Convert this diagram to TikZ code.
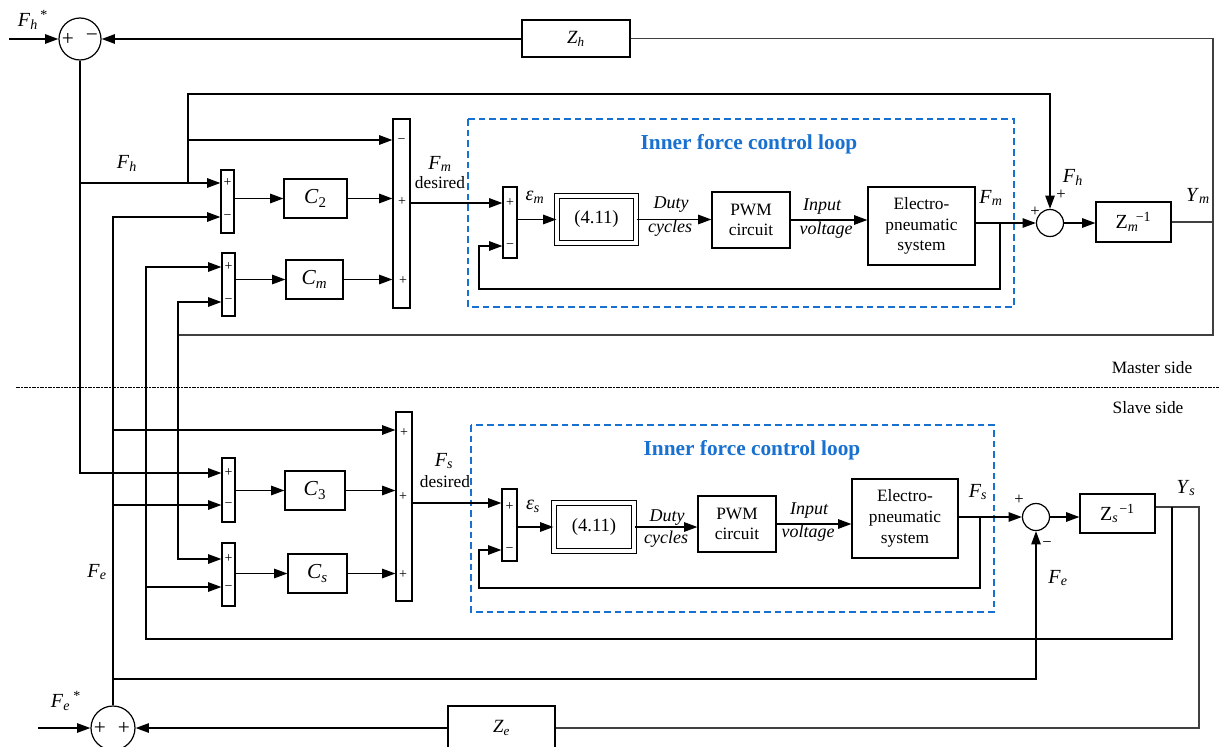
\documentclass[tikz,border=0pt]{standalone}
\usepackage{fontspec}
\setmainfont{Liberation Serif}
\usetikzlibrary{arrows.meta}
\definecolor{loopblue}{RGB}{24,112,208}
\newcommand\mySub[2]{\textit{#1}\textsubscript{\textit{#2}}}
\newcommand\mySubSup[3]{\textit{#1}\rlap{\textsubscript{\textit{#2}}}\kern0.5em\textsuperscript{#3}}
\begin{document}
\begin{tikzpicture}[x=0.75pt,y=-0.75pt,
  font=\fontsize{13}{15.5}\selectfont,
  box/.style={draw, line width=0.8pt, inner sep=0pt, align=center},
  bw/.style={minimum width=#1*0.75pt},
  bh/.style={minimum height=#1*0.75pt},
  sumc/.style={draw, circle, line width=0.9pt, inner sep=0pt, minimum size=#1*0.75pt},
  dbl/.style={box, double, double distance=2.6pt, line width=0.8pt},
  arr/.style={-{Triangle[length=10pt,width=7pt]}, line width=1.3pt},
  wire/.style={line width=0.9pt, draw=black!75},
  sgn/.style={font=\fontsize{10.5}{10.5}\selectfont, inner sep=0pt},
  osgn/.style={font=\fontsize{12.5}{12.5}\selectfont, inner sep=0pt},
  bsgn/.style={font=\fontsize{16}{16}\selectfont, inner sep=0pt},
  lab/.style={font=\fontsize{15}{15}\selectfont, inner sep=0pt},
  txt/.style={font=\fontsize{13}{13}\selectfont, inner sep=0pt},
  itxt/.style={font=\itshape\fontsize{13.5}{13.5}\selectfont, inner sep=0pt},
  loopbox/.style={draw=loopblue, dash pattern=on 5pt off 3pt, line width=1.1pt},
  looptitle/.style={text=loopblue, font=\bfseries\fontsize{16}{16}\selectfont, inner sep=0pt}]
\useasboundingbox (0,0) rectangle (1219,746);

% ---------- dashed loop boxes and divider ----------
\draw[loopbox] (468,119) rectangle (1014,307);
\draw[loopbox] (471,425) rectangle (994,612);
\node[looptitle] (t1) at (749,144) {Inner force control loop};
\node[looptitle] (t2) at (752,450) {Inner force control loop};
\draw[line width=0.5pt, dash pattern=on 3pt off 1pt on 1pt off 1pt] (16,387) -- (1219,387);
\node[txt] (ms) at (1152,368) {Master side};
\node[txt] (ss) at (1148,408) {Slave side};

% ---------- nodes: top and bottom ----------
\node[sumc=42] (sumH) at (80,39) {};
\node[bsgn] at (68,39) {+};
\node[bsgn] at (92,38) {−};
\node[box, bw=108, bh=37] (zh) at (576,38.5) {\fontsize{14}{14}\selectfont\mySub{Z}{h}};
\node[sumc=44] (sumE) at (113,728) {};
\node[bsgn] at (100,728) {+};
\node[bsgn] at (124,728) {+};
\node[box, bw=107, bh=44] (ze) at (501.5,728) {\fontsize{14}{14}\selectfont\mySub{Z}{e}};

% ---------- master side nodes ----------
\node[box, bw=17, bh=189] (bigM) at (401.5,213.5) {};
\node[box, bw=13, bh=63] (c2sum) at (227.5,201.5) {};
\node[box, bw=63, bh=39] (c2) at (315.5,198.5) {\fontsize{16}{16}\selectfont\textit{C}\textsubscript{2}};
\node[box, bw=13, bh=63] (cmsum) at (228.5,284.5) {};
\node[box, bw=57, bh=39] (cm) at (314.5,279.5) {\fontsize{16}{16}\selectfont\mySub{C}{m}};
\node[box, bw=14, bh=71] (emsum) at (510,222.5) {};
\node[dbl, bw=79, bh=47] (eq1) at (596.5,219.5) {\fontsize{14}{14}\selectfont(4.11)};
\node[box, bw=78, bh=56] (pwm1) at (751,220) {PWM\\circuit};
\node[box, bw=107, bh=78] (ep1) at (921.5,226) {Electro-\\pneumatic\\system};
\node[sumc=27] (fmsum) at (1050,223) {};
\node[box, bw=75, bh=40] (zm) at (1133.5,222) {\fontsize{15}{15}\selectfont Z\rlap{\textsubscript{\textit{m}}}\kern0.4em\textsuperscript{−1}};

% ---------- slave side nodes ----------
\node[box, bw=16, bh=189] (bigS) at (404,506.5) {};
\node[box, bw=13, bh=64] (c3sum) at (228.5,490) {};
\node[box, bw=60, bh=39] (c3) at (315,490.5) {\fontsize{16}{16}\selectfont\textit{C}\textsubscript{3}};
\node[box, bw=13, bh=63] (cssum) at (228.5,574.5) {};
\node[box, bw=59, bh=39] (cs) at (317.5,573.5) {\fontsize{16}{16}\selectfont\mySub{C}{s}};
\node[box, bw=15, bh=72] (essum) at (509.5,525) {};
\node[dbl, bw=80, bh=48] (eq2) at (594,527) {\fontsize{14}{14}\selectfont(4.11)};
\node[box, bw=78, bh=56] (pwm2) at (737,524) {PWM\\circuit};
\node[box, bw=106, bh=79] (ep2) at (905,518.5) {Electro-\\pneumatic\\system};
\node[sumc=27] (fssum) at (1036,517) {};
\node[box, bw=75, bh=39] (zs) at (1117.5,513.5) {\fontsize{15}{15}\selectfont Z\rlap{\textsubscript{\textit{s}}}\kern0.35em\textsuperscript{−1}};

% ---------- signs in the bar junctions ----------
\node[sgn] at (227.5,183) {+};  \node[sgn] at (227.5,217) {−};
\node[sgn] at (228.5,267) {+};  \node[sgn] at (228.5,301) {−};
\node[sgn] at (401.5,141) {−};  \node[sgn] at (402,202) {+};  \node[sgn] at (403,281) {+};
\node[sgn] at (510,203) {+};    \node[sgn] at (510,246) {−};
\node[sgn] at (228.5,473) {+};  \node[sgn] at (228.5,505) {−};
\node[sgn] at (228.5,559) {+};  \node[sgn] at (228.5,588) {−};
\node[sgn] at (404,433) {+};    \node[sgn] at (403,497) {+};  \node[sgn] at (403,575) {+};
\node[sgn] at (509.5,507) {+};  \node[sgn] at (509.5,550) {−};
\node[osgn] at (1061,195) {+};   \node[osgn] at (1035,212) {+};
\node[osgn] at (1019,500) {+};   \node[osgn] at (1047,545) {−};

% ---------- labels ----------
\node[lab] (lFhs) at (33,20) {\mySubSup{F}{h}{*}};
\node[lab] (lFh) at (127,163) {\mySub{F}{h}};
\node[lab] (lFm) at (440,164) {\mySub{F}{m}};
\node[txt] (lFmd) at (440,183) {desired};
\node[lab] (lem) at (535,197) {\mySub{ε}{m}};
\node[itxt] at (671,205) {Duty};
\node[itxt] at (670,228) {cycles};
\node[itxt] at (822,207) {Input};
\node[itxt] at (826,230) {voltage};
\node[lab] (lFm2) at (991,198) {\mySub{F}{m}};
\node[lab] (lFh2) at (1073,177) {\mySub{F}{h}};
\node[lab] (lYm) at (1198,196) {\mySub{Y}{m}};
\node[lab] (lFs) at (444,461) {\mySub{F}{s}};
\node[txt] (lFsd) at (445,482) {desired};
\node[lab] (les) at (533,506) {\mySub{ε}{s}};
\node[itxt] at (667,518) {Duty};
\node[itxt] at (666,539) {cycles};
\node[itxt] at (809,511) {Input};
\node[itxt] at (808,533) {voltage};
\node[lab] (lFs2) at (978,492) {\mySub{F}{s}};
\node[lab] (lFe2) at (1058,578) {\mySub{F}{e}};
\node[lab] (lYs) at (1186,488) {\mySub{Y}{s}};
\node[lab] (lFe) at (97,572) {\mySub{F}{e}};
\node[lab] (lFes) at (66,701) {\mySubSup{F}{e}{*}};

% ---------- external inputs ----------
\coordinate (inH) at (9,39);
\coordinate (inE) at (38,728);
\draw[arr] (inH) -- (sumH.west);
\draw[arr] (inE) -- (sumE.west);

% ---------- top loop (Z_h) and Y_m ----------
\draw[arr] (zh.west |- sumH.east) -- (sumH.east);
\draw[wire] (zh.east) -| (1213,335) -- (178,335);
\draw[wire] (zm.east) -- (zm.east -| 1213,0);
\draw[arr] (178,335) |- (cmsum.west |- 0,302);
\draw[arr] (178,335) |- (cssum.west |- 0,559);

% ---------- F_h distribution ----------
\draw[arr] (sumH.south) |- (c3sum.west |- 0,473);
\draw[arr] (80,183) -- (c2sum.west |- 0,183);
\draw[arr] (188,183) |- (bigM.west |- 0,140);
\draw[arr] (188,140) |- (1050,94) -- (fmsum.north);

% ---------- F_e distribution ----------
\draw[arr] (sumE.north) |- (c2sum.west |- 0,217);
\draw[arr] (113,430) -- (bigS.west |- 0,430);
\draw[arr] (113,505) -- (c3sum.west |- 0,505);
\draw[arr] (113,679) -| (fssum.south);

% ---------- Y_s distribution ----------
\coordinate (ysout) at ([yshift=4.9pt]zs.east);
\draw[wire] (ysout) -| (1199,728) -- (ze.east);
\draw[arr] (ze.west) -- (sumE.east);
\draw[arr] (ysout -| 1172,0) -- (1172,639) -| (146,267) -- (cmsum.west |- 0,267);
\draw[arr] (146,587) -- (cssum.west |- 0,587);

% ---------- master chain ----------
\draw[arr] (c2sum.east |- c2.west) -- (c2.west);
\draw[arr] (c2.east) -- (bigM.west |- c2.east);
\draw[arr] (cmsum.east |- cm.west) -- (cm.west);
\draw[arr] (cm.east) -- (bigM.west |- cm.east);
\draw[arr] (bigM.east |- 0,203) -- (emsum.west |- 0,203);
\draw[arr] (emsum.east |- eq1.west) -- (eq1.west);
\draw[arr] (eq1.east) -- (pwm1.west |- eq1.east);
\draw[arr] (pwm1.east) -- (ep1.west |- pwm1.east);
\draw[arr] (ep1.east |- fmsum.west) -- (fmsum.west);
\coordinate (fbm) at (1000,223);
\draw[arr] (fbm) |- (479,289) |- (emsum.west |- 0,246);
\draw[arr] (fmsum.east) -- (zm.west |- fmsum.east);

% ---------- slave chain ----------
\draw[arr] (c3sum.east |- c3.west) -- (c3.west);
\draw[arr] (c3.east) -- (bigS.west |- c3.east);
\draw[arr] (cssum.east |- cs.west) -- (cs.west);
\draw[arr] (cs.east) -- (bigS.west |- cs.east);
\draw[arr] (bigS.east |- 0,503) -- (essum.west |- 0,503);
\draw[arr] (essum.east |- eq2.west) -- (eq2.west);
\draw[arr] (eq2.east) -- (pwm2.west |- eq2.east);
\draw[arr] (pwm2.east) -- (ep2.west |- pwm2.east);
\draw[arr] (ep2.east |- fssum.west) -- (fssum.west);
\coordinate (fbs) at (980,517);
\draw[arr] (fbs) |- (479,588) |- (essum.west |- 0,550);
\draw[arr] (fssum.east) -- (zs.west |- fssum.east);
\end{tikzpicture}
\end{document}
